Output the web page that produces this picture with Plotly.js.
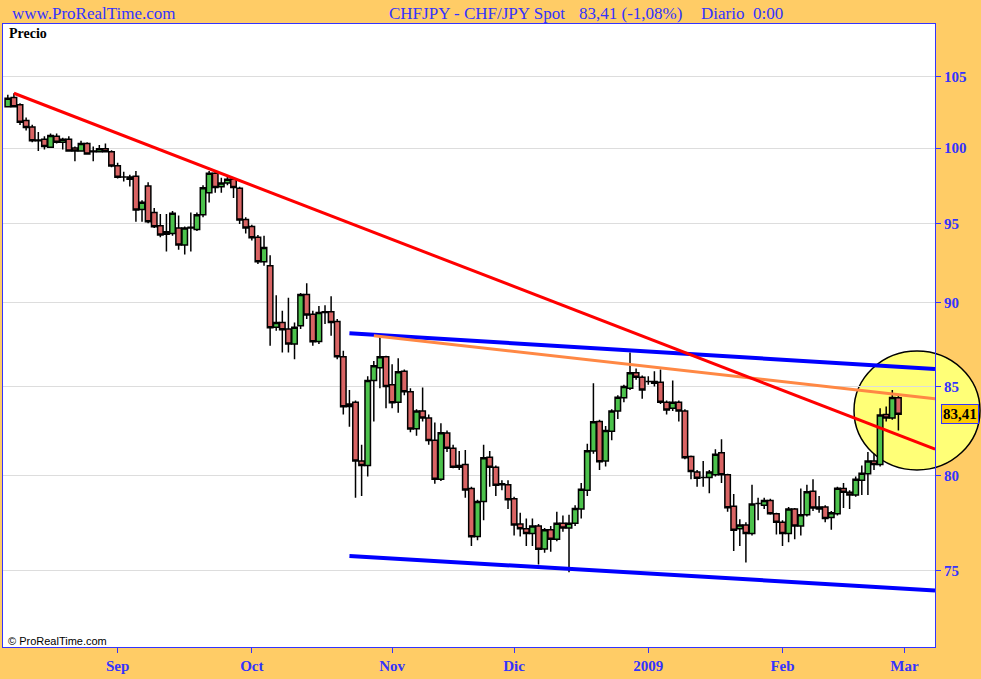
<!DOCTYPE html>
<html>
<head>
<meta charset="utf-8">
<script src="https://cdn.plot.ly/plotly-3.0.1.min.js"></script>
<style>html,body{margin:0;padding:0;background:#FFCC66;}#chart{width:981px;height:679px;}</style>
</head>
<body>
<div id="chart"></div>
<script>
// Trading days shown on the chart (weekdays, 25 Dec closed)
const tradingDays = {
  '2008-08': [6,7,8,11,12,13,14,15,18,19,20,21,22,25,26,27,28,29],
  '2008-09': [1,2,3,4,5,8,9,10,11,12,15,16,17,18,19,22,23,24,25,26,29,30],
  '2008-10': [1,2,3,6,7,8,9,10,13,14,15,16,17,20,21,22,23,24,27,28,29,30,31],
  '2008-11': [3,4,5,6,7,10,11,12,13,14,17,18,19,20,21,24,25,26,27,28],
  '2008-12': [1,2,3,4,5,8,9,10,11,12,15,16,17,18,19,22,23,24,26,29,30,31],
  '2009-01': [1,2,5,6,7,8,9,12,13,14,15,16,19,20,21,22,23,26,27,28,29,30],
  '2009-02': [2,3,4,5,6,9,10,11,12,13,16,17,18,19,20,23,24,25,26,27]
};

const openP = [102.85,103.5,103.0,101.9,101.45,100.5,100.6,100.05,100.8,100.4,
  100.6,100.0,99.8,100.3,99.75,99.75,99.95,99.75,98.8,98.05,
  98.05,98.1,95.9,97.45,95.7,94.85,94.3,94.35,94.7,93.6,
  94.7,94.6,95.55,97.0,98.3,97.4,97.65,97.9,97.3,95.25,
  94.8,94.1,92.55,92.3,88.5,88.8,88.4,87.5,88.6,90.5,
  89.3,87.65,89.4,89.45,88.85,86.75,83.85,84.1,80.8,80.55,
  85.35,86.1,86.75,85.1,84.1,85.9,84.7,82.6,83.6,83.2,
  81.95,79.8,82.35,81.5,80.55,80.6,79.3,76.75,78.6,81.0,
  80.45,79.5,79.5,78.75,77.4,77.15,76.9,77.3,76.1,77.1,
  76.6,77.45,77.2,77.45,78.2,79.2,81.35,83.0,80.8,82.45,
  83.6,84.35,84.9,85.8,85.55,85.3,85.3,85.25,84.1,83.75,
  84.1,83.6,81.05,80.2,79.9,79.9,80.05,81.25,80.05,78.35,
  77.15,77.35,76.9,78.5,78.4,78.65,77.95,77.5,76.9,78.2,
  77.3,77.9,79.15,78.3,78.3,77.75,77.95,79.3,79.1,78.95,
  79.75,80.1,80.8,80.6,83.4,83.2,84.35];
const highP = [103.7,103.8,103.1,102.1,101.6,101.1,100.8,101.0,101.0,100.7,
  100.8,100.1,100.5,100.4,100.1,100.2,100.3,99.85,99.0,98.4,
  98.2,98.45,96.5,97.7,96.0,95.6,95.6,95.8,95.5,94.8,
  95.7,95.7,97.5,98.45,98.5,98.0,98.05,98.0,97.4,95.4,
  94.9,94.25,94.2,92.95,90.45,89.5,90.3,88.8,90.6,91.2,
  89.5,89.8,89.85,90.4,89.0,87.1,84.8,84.2,81.7,85.6,
  86.5,87.95,86.8,86.3,86.65,86.0,84.9,83.7,84.95,83.4,
  82.95,82.9,82.5,81.7,81.35,81.4,79.4,78.7,81.7,81.35,
  80.55,79.75,79.75,78.85,78.0,77.7,77.7,77.4,77.2,77.3,
  78.05,77.85,77.9,78.4,79.6,81.75,85.2,83.1,82.75,83.7,
  84.5,85.1,87.0,86.05,85.65,85.6,85.9,86.0,84.2,85.35,
  84.2,83.7,81.1,80.3,80.8,80.3,81.45,82.0,80.1,79.0,
  77.65,77.5,79.5,78.8,78.8,78.75,78.0,77.6,78.3,78.25,
  79.3,79.5,79.8,78.9,78.4,78.1,79.4,79.6,79.2,79.95,
  80.55,81.3,81.2,83.75,83.85,84.8,84.45];
const lowP = [102.8,102.8,101.58,101.2,100.4,99.8,99.9,100.0,100.3,99.9,
  99.75,99.1,99.75,99.55,99.1,99.7,99.7,98.7,97.95,97.75,
  97.42,95.1,95.1,95.0,94.7,94.1,93.2,94.2,93.3,93.0,
  93.2,94.5,95.4,96.35,97.0,97.0,97.5,96.65,94.95,94.35,
  93.9,92.4,92.3,87.4,88.3,87.0,87.0,86.6,88.4,89.0,
  87.4,87.5,88.7,88.0,86.6,83.4,82.7,78.8,78.9,79.95,
  83.0,84.9,83.75,83.75,83.5,84.5,82.4,82.2,83.0,81.7,
  79.55,79.7,81.3,80.4,80.3,78.8,76.25,76.55,77.6,79.4,
  78.9,79.2,78.2,76.8,76.75,76.25,76.25,75.3,75.9,75.95,
  76.5,77.0,74.9,77.3,77.7,78.9,81.2,80.3,80.5,81.95,
  83.15,84.1,84.8,85.4,84.3,85.1,85.0,84.0,83.4,83.6,
  83.0,80.9,79.8,79.4,79.4,79.05,79.95,79.6,78.05,76.0,
  76.25,75.4,76.8,77.6,78.2,77.9,76.85,76.25,76.45,76.6,
  76.8,77.8,78.1,78.0,77.5,77.1,77.85,78.25,78.2,78.85,
  78.95,78.95,80.3,80.5,83.0,83.1,82.5];
const closeP = [103.45,102.85,101.77,101.4,100.5,100.55,100.1,100.85,100.4,100.6,
  99.8,99.8,100.3,99.6,99.8,99.95,99.75,98.78,98.03,98.05,
  97.9,95.87,96.37,95.1,94.78,94.25,94.45,95.65,93.6,94.7,
  94.75,95.55,97.33,98.29,97.35,97.65,97.9,97.35,95.22,94.7,
  94.07,92.55,93.44,88.48,88.8,88.35,87.5,88.5,90.5,89.25,
  87.64,89.4,89.45,88.8,86.75,83.84,84.0,80.8,80.55,85.35,
  86.22,86.75,85.0,84.07,85.87,84.7,82.58,83.6,83.2,81.93,
  79.8,82.37,81.5,80.46,80.45,79.22,76.74,78.6,80.98,80.45,
  79.48,79.55,78.69,77.35,77.15,76.9,77.3,76.09,77.1,76.6,
  77.45,77.2,77.45,78.23,79.26,81.37,82.99,80.76,82.49,83.6,
  84.39,85.0,85.81,85.55,84.8,85.3,85.2,84.1,83.65,84.1,
  83.6,80.98,80.22,79.85,79.9,80.2,81.17,80.05,78.27,77.08,
  77.35,76.9,78.47,78.5,78.65,77.95,77.5,76.9,78.2,77.3,
  77.9,79.12,78.25,78.2,77.7,78.0,79.31,79.1,78.95,79.8,
  80.13,80.8,80.6,83.37,83.2,84.37,83.41];

// Trend lines drawn on the chart (date, price)
const redLineX = ['2008-08-07 12:00', '2009-03-09 12:00'];
const redLineY = [103.8, 81.45];
const blueTopX = ['2008-10-23 12:00', '2009-03-09 12:00'];
const blueTopY = [88.15, 86.02];
const blueBotX = ['2008-10-23 12:00', '2009-03-09 12:00'];
const blueBotY = [75.74, 73.98];
const orangeX = ['2008-10-29 12:00', '2009-03-09 12:00'];
const orangeY = [88.0, 84.30];

// Axis ticks
const xTickDates = ['2008-09-01', '2008-10-01', '2008-11-03', '2008-12-01', '2009-01-01', '2009-02-02', '2009-03-02'];
const xTickLabels = ['Sep', 'Oct', 'Nov', 'Dic', '2009', 'Feb', 'Mar'];
const yTickVals = [75, 80, 85, 90, 95, 100, 105];

const dates = [];
Object.keys(tradingDays).forEach(function (ym) {
  tradingDays[ym].forEach(function (d) {
    dates.push(ym + '-' + (d < 10 ? '0' + d : d) + ' 12:00');
  });
});

const BLUE = '#3333FF';
const SERIF = 'Liberation Serif, Times New Roman, serif';

const traces = [
  {
    type: 'candlestick',
    x: dates, open: openP, high: highP, low: lowP, close: closeP,
    increasing: { fillcolor: '#4CC24C', line: { color: '#000000', width: 1.5 } },
    decreasing: { fillcolor: '#D96464', line: { color: '#000000', width: 1.5 } },
    whiskerwidth: 0,
    hoverinfo: 'skip'
  },
  { type: 'scatter', mode: 'lines', x: blueTopX, y: blueTopY, line: { color: '#0000FF', width: 4 }, hoverinfo: 'skip' },
  { type: 'scatter', mode: 'lines', x: blueBotX, y: blueBotY, line: { color: '#0000FF', width: 4 }, hoverinfo: 'skip' },
  { type: 'scatter', mode: 'lines', x: orangeX, y: orangeY, line: { color: '#FF8844', width: 3 }, hoverinfo: 'skip' },
  { type: 'scatter', mode: 'lines', x: redLineX, y: redLineY, line: { color: '#FF0000', width: 3 }, hoverinfo: 'skip' }
];

// pixel helpers for paper-positioned decorations
const L = 3, R = 46, T = 24, B = 32, W = 981, H = 679;
const pw = W - L - R, ph = H - T - B;
function px(x) { return (x - L) / pw; }
function py(y) { return (H - B - y) / ph; }

const lastClose = closeP[closeP.length - 1];

const layout = {
  width: W, height: H,
  margin: { l: L, r: R, t: T, b: B, pad: 0 },
  paper_bgcolor: '#FFCC66',
  plot_bgcolor: 'rgba(0,0,0,0)',
  showlegend: false,
  hovermode: false,
  dragmode: false,
  boxgap: 0.1,
  boxgroupgap: 0,
  xaxis: {
    type: 'date',
    range: ['2008-08-05 17:00', '2009-03-09 12:00'],
    rangebreaks: [{ bounds: ['sat', 'mon'] }, { values: ['2008-12-25'] }],
    rangeslider: { visible: false },
    tickmode: 'array',
    tickvals: xTickDates.map(function (d) { return d + ' 12:00'; }),
    ticktext: xTickLabels,
    ticks: 'outside', ticklen: 5, tickcolor: BLUE, tickwidth: 1,
    showline: true, linecolor: BLUE, linewidth: 1, mirror: true,
    showgrid: false, zeroline: false,
    tickfont: { family: SERIF, size: 15, color: BLUE, weight: 'bold' }
  },
  yaxis: {
    type: 'log',
    side: 'right',
    range: [1.85238, 2.03669],
    tickmode: 'array',
    tickvals: yTickVals,
    ticktext: yTickVals.map(String),
    ticks: 'outside', ticklen: 5, tickcolor: BLUE, tickwidth: 1,
    showline: true, linecolor: BLUE, linewidth: 1, mirror: true,
    showgrid: true, gridcolor: '#DDDDDD', gridwidth: 1, zeroline: false,
    tickfont: { family: SERIF, size: 15, color: BLUE, weight: 'bold' }
  },
  shapes: [
    { type: 'rect', xref: 'paper', yref: 'paper', x0: 0, x1: 1, y0: 0, y1: 1,
      fillcolor: '#FFFFFF', line: { width: 0 }, layer: 'below' },
    { type: 'circle', xref: 'paper', yref: 'paper',
      x0: px(854), x1: px(980), y0: py(470), y1: py(351),
      fillcolor: '#FFFF77', line: { color: '#000000', width: 1.5 }, layer: 'below' }
  ],
  annotations: [
    { text: 'www.ProRealTime.com', xref: 'paper', yref: 'paper', x: px(10), y: py(13),
      xanchor: 'left', yanchor: 'middle', showarrow: false,
      font: { family: SERIF, size: 17, color: BLUE } },
    { text: 'CHFJPY - CHF/JPY Spot', xref: 'paper', yref: 'paper', x: px(387), y: py(13),
      xanchor: 'left', yanchor: 'middle', showarrow: false,
      font: { family: SERIF, size: 17, color: BLUE } },
    { text: '83,41 (-1,08%)', xref: 'paper', yref: 'paper', x: px(577), y: py(13),
      xanchor: 'left', yanchor: 'middle', showarrow: false,
      font: { family: SERIF, size: 17, color: BLUE } },
    { text: 'Diario\u00a0 0:00', xref: 'paper', yref: 'paper', x: px(699), y: py(13),
      xanchor: 'left', yanchor: 'middle', showarrow: false,
      font: { family: SERIF, size: 17, color: BLUE } },
    { text: 'Precio', xref: 'paper', yref: 'paper', x: px(7), y: py(34),
      xanchor: 'left', yanchor: 'middle', showarrow: false,
      font: { family: SERIF, size: 14, color: '#000000', weight: 'bold' } },
    { text: '\u00a9 ProRealTime.com', xref: 'paper', yref: 'paper', x: px(6), y: py(641),
      xanchor: 'left', yanchor: 'middle', showarrow: false,
      font: { family: 'Liberation Sans, Arial, sans-serif', size: 11, color: '#000000' } },
    { text: lastClose.toFixed(2).replace('.', ','), xref: 'paper', yref: 'y',
      x: px(941), y: Math.log10(lastClose),
      xanchor: 'left', yanchor: 'middle', showarrow: false,
      bgcolor: '#FFCC00', bordercolor: BLUE, borderwidth: 1, borderpad: 1,
      font: { family: SERIF, size: 15, color: '#000000', weight: 'bold' } }
  ]
};

Plotly.newPlot('chart', traces, layout, { staticPlot: true, displayModeBar: false });
</script>
</body>
</html>
